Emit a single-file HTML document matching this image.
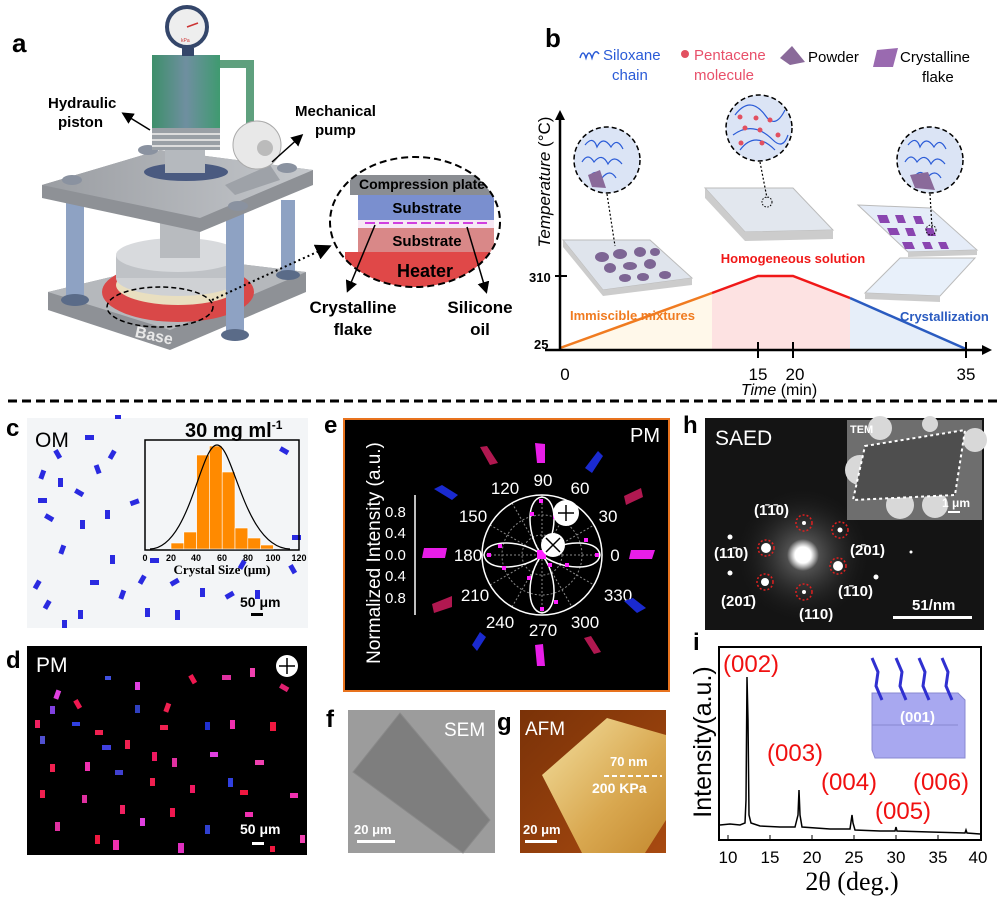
<!DOCTYPE html>
<html><head><meta charset="utf-8"><style>
html,body{margin:0;padding:0;background:#fff;}
svg{display:block;font-family:"Liberation Sans",Arial,sans-serif;}
</style></head><body>
<svg width="1000" height="897" viewBox="0 0 1000 897" xmlns="http://www.w3.org/2000/svg">
<defs>
<linearGradient id="gcyl" x1="0" x2="1"><stop offset="0" stop-color="#3d8f6a"/><stop offset=".5" stop-color="#6f8fa0"/><stop offset="1" stop-color="#3f9a70"/></linearGradient>
<linearGradient id="gplate" x1="0" x2="1"><stop offset="0" stop-color="#9a9da2"/><stop offset="1" stop-color="#c5c8cc"/></linearGradient>
<linearGradient id="gafm" x1="0" y1="0" x2="1" y2="1"><stop offset="0" stop-color="#7a3208"/><stop offset="1" stop-color="#a84a10"/></linearGradient>
<linearGradient id="gflake" x1="0" y1="0" x2="1" y2="1"><stop offset="0" stop-color="#f3e0a0"/><stop offset=".6" stop-color="#d9a850"/><stop offset="1" stop-color="#c58a30"/></linearGradient>
<radialGradient id="gspot"><stop offset="0" stop-color="#fff"/><stop offset=".5" stop-color="#fff"/><stop offset="1" stop-color="#fff" stop-opacity="0"/></radialGradient>
<radialGradient id="ghalo"><stop offset="0" stop-color="#777"/><stop offset="1" stop-color="#111" stop-opacity="0"/></radialGradient>
<clipPath id="czoom"><ellipse cx="415" cy="222" rx="85" ry="65"/></clipPath>
<marker id="ar" markerWidth="8" markerHeight="8" refX="6" refY="4" orient="auto"><path d="M0,0 L8,4 L0,8 z" fill="#000"/></marker>
</defs>

<!-- ===== Panel a ===== -->
<text x="12" y="52" font-size="26" font-weight="bold">a</text>
<!-- base -->
<polygon points="48,292 190,258 306,272 306,292 170,350 48,310" fill="#8e9196"/>
<polygon points="48,292 190,258 306,272 170,330" fill="#b5b8bc"/>
<text x="135" y="340" font-size="16" font-weight="bold" fill="#e8e8e8" transform="rotate(12 150 335)">Base</text>
<!-- heater -->
<ellipse cx="178" cy="292" rx="76" ry="30" fill="#d94848"/>
<ellipse cx="178" cy="285" rx="62" ry="20" fill="#e9dfc0"/>
<ellipse cx="178" cy="278" rx="62" ry="18" fill="#cfd1d4"/>
<rect x="116" y="255" width="124" height="23" fill="#bfc2c6"/>
<ellipse cx="178" cy="255" rx="62" ry="17" fill="#d8dadd"/>
<rect x="160" y="220" width="40" height="38" fill="#b8bbbf"/>
<ellipse cx="160" cy="307" rx="53" ry="20" fill="none" stroke="#000" stroke-width="1.5" stroke-dasharray="5,3"/>
<!-- columns -->
<rect x="66" y="200" width="18" height="100" fill="#8ea2c3"/>
<ellipse cx="75" cy="300" rx="14" ry="6" fill="#5a6b88"/>
<rect x="281" y="200" width="14" height="75" fill="#8ea2c3"/>
<ellipse cx="288" cy="275" rx="12" ry="5" fill="#5a6b88"/>
<rect x="226" y="205" width="18" height="130" fill="#8ea2c3"/>
<ellipse cx="235" cy="335" rx="14" ry="6" fill="#5a6b88"/>
<!-- top plate -->
<polygon points="42,185 160,150 313,170 313,185 200,232 42,198" fill="#8e9196"/>
<polygon points="42,185 160,150 313,170 200,218" fill="url(#gplate)"/>
<ellipse cx="72" cy="180" rx="10" ry="5" fill="#8a92a0"/>
<ellipse cx="148" cy="150" rx="10" ry="5" fill="#8a92a0"/>
<ellipse cx="287" cy="168" rx="10" ry="5" fill="#8a92a0"/>
<ellipse cx="238" cy="206" rx="10" ry="5" fill="#8a92a0"/>
<!-- cylinder -->
<ellipse cx="186" cy="172" rx="42" ry="9" fill="#4a5a80"/>
<rect x="165" y="135" width="40" height="38" fill="#b5b9be"/>
<rect x="152" y="55" width="68" height="75" fill="url(#gcyl)"/>
<rect x="152" y="128" width="68" height="22" fill="#9aa0a6"/>
<line x1="152" y1="134" x2="220" y2="134" stroke="#ddd" stroke-width="2"/>
<line x1="152" y1="140" x2="220" y2="140" stroke="#ddd" stroke-width="2"/>
<line x1="152" y1="146" x2="220" y2="146" stroke="#ddd" stroke-width="2"/>
<path d="M220,64 L250,64 L250,125" fill="none" stroke="#5fa07e" stroke-width="8"/>
<rect x="182" y="48" width="12" height="8" fill="#34466a"/>
<circle cx="187" cy="27" r="20" fill="#eee" stroke="#34466a" stroke-width="4"/>
<line x1="187" y1="27" x2="198" y2="23" stroke="#c33" stroke-width="1.5"/>
<text x="181" y="42" font-size="5" fill="#c33">kPa</text>
<!-- pump -->
<polygon points="225,185 270,165 280,180 235,195" fill="#9ea2a8"/>
<circle cx="257" cy="145" r="24" fill="#e8e8e8" stroke="#aaa"/>
<circle cx="265" cy="148" r="8" fill="#bbb"/>
<text x="48" y="108" font-size="15" font-weight="bold">Hydraulic</text>
<text x="58" y="127" font-size="15" font-weight="bold">piston</text>
<line x1="150" y1="130" x2="124" y2="114" stroke="#000" stroke-width="1.5" marker-end="url(#ar)"/>
<text x="295" y="116" font-size="15" font-weight="bold">Mechanical</text>
<text x="315" y="135" font-size="15" font-weight="bold">pump</text>
<line x1="272" y1="162" x2="301" y2="136" stroke="#000" stroke-width="1.5" marker-end="url(#ar)"/>
<line x1="212" y1="300" x2="328" y2="247" stroke="#000" stroke-width="2" stroke-dasharray="2,3" marker-end="url(#ar)"/>
<!-- zoom ellipse -->
<g clip-path="url(#czoom)">
<rect x="350" y="175" width="150" height="20" fill="#8a8d92"/>
<rect x="358" y="195" width="136" height="25" fill="#7a8fcf"/>
<rect x="358" y="220" width="136" height="8" fill="#f6e8f4"/>
<line x1="365" y1="223" x2="490" y2="223" stroke="#d040e0" stroke-width="2" stroke-dasharray="10,4"/>
<rect x="358" y="228" width="136" height="24" fill="#d98888"/>
<rect x="345" y="252" width="160" height="40" fill="#e04848"/>
</g>
<ellipse cx="415" cy="222" rx="85" ry="65" fill="none" stroke="#000" stroke-width="2" stroke-dasharray="7,4"/>
<text x="422" y="189" font-size="14" font-weight="bold" text-anchor="middle">Compression plate</text>
<text x="427" y="213" font-size="15" font-weight="bold" text-anchor="middle">Substrate</text>
<text x="427" y="246" font-size="15" font-weight="bold" text-anchor="middle">Substrate</text>
<text x="425" y="277" font-size="18" font-weight="bold" text-anchor="middle">Heater</text>
<line x1="375" y1="225" x2="348" y2="290" stroke="#000" stroke-width="1.5" marker-end="url(#ar)"/>
<line x1="467" y1="227" x2="486" y2="291" stroke="#000" stroke-width="1.5" marker-end="url(#ar)"/>
<text x="353" y="313" font-size="17" font-weight="bold" text-anchor="middle">Crystalline</text>
<text x="353" y="335" font-size="17" font-weight="bold" text-anchor="middle">flake</text>
<text x="480" y="313" font-size="17" font-weight="bold" text-anchor="middle">Silicone</text>
<text x="480" y="335" font-size="17" font-weight="bold" text-anchor="middle">oil</text>

<!-- ===== Panel b ===== -->
<text x="545" y="47" font-size="26" font-weight="bold">b</text>
<path d="M580,58 q3,-10 6,0 q3,-10 6,0 q3,-10 7,-4" fill="none" stroke="#2a5bd7" stroke-width="1.5"/>
<text x="603" y="60" font-size="15" fill="#2a5bd7">Siloxane</text>
<text x="612" y="80" font-size="15" fill="#2a5bd7">chain</text>
<circle cx="685" cy="54" r="4" fill="#e25060"/>
<text x="694" y="60" font-size="15" fill="#e8506a">Pentacene</text>
<text x="694" y="80" font-size="15" fill="#e8506a">molecule</text>
<polygon points="780,58 792,46 805,62 790,65" fill="#8a6a9a"/>
<text x="808" y="62" font-size="15">Powder</text>
<polygon points="877,50 898,48 893,67 873,67" fill="#9a6ab0"/>
<text x="900" y="62" font-size="15">Crystalline</text>
<text x="922" y="82" font-size="15">flake</text>
<!-- fills -->
<polygon points="560,348 712,293 712,350 560,350" fill="#fff8ea"/>
<polygon points="712,293 758,276 793,276 850,298 850,350 712,350" fill="#fde2e2"/>
<polygon points="850,298 966,349 966,350 850,350" fill="#e6eef9"/>
<polyline points="560,348 712,293" fill="none" stroke="#f07b20" stroke-width="2.5"/>
<polyline points="712,293 758,276 793,276 850,298" fill="none" stroke="#f01818" stroke-width="2.5"/>
<polyline points="850,298 966,349" fill="none" stroke="#2a5bc0" stroke-width="2.5"/>
<line x1="560" y1="350" x2="560" y2="118" stroke="#000" stroke-width="2.5"/>
<polygon points="555,120 560,110 565,120" fill="#000"/>
<line x1="545" y1="350" x2="985" y2="350" stroke="#000" stroke-width="2.5"/>
<polygon points="982,345 992,350 982,355" fill="#000"/>
<line x1="555" y1="276" x2="567" y2="276" stroke="#000" stroke-width="2"/>
<line x1="758" y1="342" x2="758" y2="358" stroke="#000" stroke-width="2"/>
<line x1="793" y1="342" x2="793" y2="358" stroke="#000" stroke-width="2"/>
<line x1="966" y1="342" x2="966" y2="358" stroke="#000" stroke-width="2"/>
<text x="529" y="282" font-size="13" font-weight="bold">310</text>
<text x="534" y="349" font-size="13" font-weight="bold">25</text>
<text x="565" y="380" font-size="17" text-anchor="middle">0</text>
<text x="758" y="380" font-size="17" text-anchor="middle">15</text>
<text x="795" y="380" font-size="17" text-anchor="middle">20</text>
<text x="966" y="380" font-size="17" text-anchor="middle">35</text>
<text x="779" y="395" font-size="16" text-anchor="middle"><tspan font-style="italic">Time</tspan> (min)</text>
<text x="0" y="0" font-size="17" text-anchor="middle" transform="translate(550,182) rotate(-90)"><tspan font-style="italic">Temperature</tspan> (°C)</text>
<text x="570" y="320" font-size="13" font-weight="bold" fill="#f07b20">Immiscible mixtures</text>
<text x="793" y="263" font-size="13" font-weight="bold" fill="#f01818" text-anchor="middle">Homogeneous solution</text>
<text x="900" y="321" font-size="13" font-weight="bold" fill="#2a5bc0">Crystallization</text>
<!-- slabs -->
<polygon points="563,240 650,240 692,278 603,290" fill="#dfe4ec" stroke="#bbb"/>
<polygon points="563,240 603,290 603,296 563,247" fill="#ccc"/>
<polygon points="603,290 692,278 692,285 603,296" fill="#ccc"/>
<g fill="#7d6594"><ellipse cx="602" cy="257" rx="7" ry="5"/><ellipse cx="620" cy="254" rx="7" ry="5"/><ellipse cx="640" cy="252" rx="6" ry="5"/><ellipse cx="610" cy="268" rx="6" ry="5"/><ellipse cx="630" cy="266" rx="7" ry="4"/><ellipse cx="650" cy="264" rx="6" ry="5"/><ellipse cx="625" cy="278" rx="6" ry="4"/><ellipse cx="643" cy="277" rx="6" ry="4"/><ellipse cx="665" cy="275" rx="6" ry="4"/><ellipse cx="655" cy="252" rx="5" ry="4"/></g>
<line x1="607" y1="194" x2="615" y2="246" stroke="#000" stroke-width="1.2" stroke-dasharray="2,2"/>
<circle cx="607" cy="160" r="33" fill="#dbe4f5" stroke="#000" stroke-width="1.5" stroke-dasharray="5,3"/>
<path d="M585,145 q8,-10 12,2 q6,-12 14,0 q6,-10 12,2 M582,162 q6,-10 12,0 q8,-10 14,2 q6,-10 14,0 M590,176 q6,-8 12,2 q8,-10 14,0" fill="none" stroke="#2a5bd7" stroke-width="1.2"/>
<polygon points="588,175 600,170 606,188 592,187" fill="#8a6a9a"/>
<polygon points="705,188 793,188 833,230 745,232" fill="#e2e7ee" stroke="#bbb"/>
<polygon points="745,232 833,230 833,239 745,241" fill="#ccc"/>
<polygon points="705,188 745,232 745,241 705,198" fill="#ccc"/>
<line x1="760" y1="162" x2="767" y2="198" stroke="#000" stroke-width="1.2" stroke-dasharray="2,2"/>
<circle cx="767" cy="202" r="5" fill="none" stroke="#000" stroke-dasharray="1.5,1.5"/>
<circle cx="759" cy="128" r="33" fill="#dbe4f5" stroke="#000" stroke-width="1.5" stroke-dasharray="5,3"/>
<path d="M735,115 q15,-20 30,0 q10,15 20,-5 M733,135 q20,-15 40,5 q10,10 15,-5 M740,150 q15,-20 35,0" fill="none" stroke="#2a5bd7" stroke-width="1.2"/>
<g fill="#e25060"><circle cx="740" cy="117" r="2.5"/><circle cx="756" cy="118" r="2.5"/><circle cx="770" cy="120" r="2.5"/><circle cx="745" cy="128" r="2.5"/><circle cx="760" cy="130" r="2.5"/><circle cx="778" cy="135" r="2.5"/><circle cx="741" cy="143" r="2.5"/><circle cx="762" cy="143" r="2.5"/></g>
<polygon points="858,205 930,208 977,250 908,252" fill="#e5ecf8" stroke="#bbb"/>
<polygon points="908,252 977,250 977,255 908,257" fill="#ccc"/>
<g fill="#8a45b0"><polygon points="877,215 887,215 890,223 880,223"/><polygon points="895,215 903,215 906,223 898,223"/><polygon points="913,216 921,216 924,224 916,224"/><polygon points="887,228 897,228 900,235 890,235"/><polygon points="905,228 913,228 916,236 908,236"/><polygon points="925,228 933,228 936,236 928,236"/><polygon points="902,242 912,242 915,249 905,249"/><polygon points="922,242 930,242 933,249 925,249"/><polygon points="938,242 946,242 949,249 941,249"/></g>
<polygon points="865,293 900,258 975,258 940,296" fill="#e8f0fa" stroke="#bbb"/>
<polygon points="865,293 940,296 940,302 865,299" fill="#ccc"/>
<line x1="930" y1="194" x2="932" y2="228" stroke="#000" stroke-width="1.2" stroke-dasharray="2,2"/>
<circle cx="931" cy="230" r="5" fill="none" stroke="#000" stroke-dasharray="1.5,1.5"/>
<circle cx="930" cy="160" r="33" fill="#dbe4f5" stroke="#000" stroke-width="1.5" stroke-dasharray="5,3"/>
<path d="M908,145 q8,-10 12,2 q6,-12 14,0 q6,-10 12,2 M905,162 q6,-10 12,0 q8,-10 14,2 q6,-10 14,0 M915,176 q6,-8 12,2 q8,-10 14,0" fill="none" stroke="#2a5bd7" stroke-width="1.2"/>
<polygon points="910,175 928,172 935,190 915,188" fill="#8a6a9a"/>

<!-- separator -->
<line x1="8" y1="401" x2="998" y2="401" stroke="#000" stroke-width="3" stroke-dasharray="9,5"/>

<!-- ===== Panel c ===== -->
<text x="6" y="436" font-size="24" font-weight="bold">c</text>
<rect x="27" y="418" width="281" height="210" fill="#f3f5f7"/>
<g fill="#2a2ae0">
<rect x="40" y="470" width="5" height="9" transform="rotate(20 42 474)"/><rect x="55" y="450" width="5" height="9" transform="rotate(-30 57 454)"/><rect x="85" y="435" width="9" height="5"/><rect x="58" y="478" width="5" height="9"/><rect x="75" y="490" width="9" height="5" transform="rotate(30 79 492)"/><rect x="95" y="465" width="5" height="9" transform="rotate(-20 97 469)"/><rect x="110" y="450" width="5" height="9" transform="rotate(30 112 454)"/><rect x="105" y="510" width="5" height="9"/><rect x="45" y="515" width="9" height="5" transform="rotate(30 49 517)"/><rect x="80" y="520" width="5" height="9"/><rect x="130" y="500" width="9" height="5" transform="rotate(-20 134 502)"/><rect x="60" y="545" width="5" height="9" transform="rotate(20 62 549)"/><rect x="110" y="555" width="5" height="9"/><rect x="35" y="580" width="5" height="9" transform="rotate(30 37 584)"/><rect x="90" y="580" width="9" height="5"/><rect x="120" y="590" width="5" height="9" transform="rotate(20 122 594)"/><rect x="145" y="608" width="5" height="9"/><rect x="175" y="610" width="5" height="10"/><rect x="140" y="575" width="5" height="9" transform="rotate(30 142 579)"/><rect x="170" y="580" width="9" height="5" transform="rotate(-30 174 582)"/><rect x="200" y="588" width="5" height="9"/><rect x="225" y="593" width="9" height="5" transform="rotate(-30 229 595)"/><rect x="255" y="590" width="5" height="9"/><rect x="290" y="565" width="5" height="9" transform="rotate(-30 292 569)"/><rect x="280" y="448" width="9" height="5" transform="rotate(30 284 450)"/><rect x="292" y="535" width="9" height="5"/><rect x="45" y="600" width="5" height="9" transform="rotate(30 47 604)"/><rect x="62" y="620" width="5" height="8"/><rect x="78" y="610" width="5" height="9"/><rect x="115" y="415" width="6" height="4"/><rect x="38" y="498" width="9" height="5"/><rect x="150" y="558" width="9" height="5"/><rect x="240" y="560" width="5" height="9" transform="rotate(30 242 564)"/>
</g>
<text x="35" y="447" font-size="21">OM</text>
<text x="185" y="437" font-size="20" font-weight="bold">30 mg ml<tspan dy="-8" font-size="12">-1</tspan></text>
<rect x="145" y="440" width="154" height="110" fill="none" stroke="#000" stroke-width="1.5"/>
<g fill="#ff8a00" stroke="#fff" stroke-width="0.6">
<rect x="171" y="543" width="12.8" height="6"/><rect x="183.8" y="532" width="12.8" height="17"/><rect x="196.6" y="455" width="12.8" height="94"/><rect x="209.4" y="446" width="12.8" height="103"/><rect x="222.2" y="472" width="12.8" height="77"/><rect x="235" y="528" width="12.8" height="21"/><rect x="247.8" y="538" width="12.8" height="11"/><rect x="260.6" y="545" width="12.8" height="4"/>
</g>
<path d="M150,549 C190,548 200,445 217,445 C234,445 244,548 290,549" fill="none" stroke="#000" stroke-width="1.2"/>
<g font-size="9" font-weight="bold" text-anchor="middle"><text x="145" y="561">0</text><text x="171" y="561">20</text><text x="196" y="561">40</text><text x="222" y="561">60</text><text x="248" y="561">80</text><text x="273" y="561">100</text><text x="299" y="561">120</text></g>
<text x="222" y="574" font-size="13" font-weight="bold" text-anchor="middle" font-family="Liberation Serif,serif">Crystal Size (μm)</text>
<text x="240" y="607" font-size="14" font-weight="bold">50 μm</text>
<rect x="251" y="613" width="12" height="3" fill="#000"/>

<!-- ===== Panel d ===== -->
<text x="6" y="668" font-size="24" font-weight="bold">d</text>
<rect x="27" y="646" width="280" height="209" fill="#000"/>
<g>
<rect x="55" y="690" width="5" height="9" fill="#e040e0" transform="rotate(20 57 694)"/><rect x="75" y="700" width="5" height="9" fill="#f01850" transform="rotate(-30 77 704)"/><rect x="105" y="676" width="6" height="4" fill="#4050e0"/><rect x="135" y="682" width="5" height="8" fill="#e040e0"/><rect x="165" y="703" width="5" height="9" fill="#f02050" transform="rotate(20 167 707)"/><rect x="190" y="675" width="5" height="9" fill="#f01850" transform="rotate(-30 192 679)"/><rect x="222" y="675" width="9" height="5" fill="#e030a0"/><rect x="250" y="668" width="5" height="9" fill="#f040b0"/><rect x="280" y="685" width="9" height="5" fill="#e02070" transform="rotate(30 284 687)"/><rect x="35" y="720" width="5" height="8" fill="#f02060"/><rect x="50" y="706" width="5" height="8" fill="#8040e0"/><rect x="72" y="722" width="8" height="4" fill="#3040e0"/><rect x="95" y="730" width="8" height="5" fill="#f02050"/><rect x="135" y="705" width="5" height="8" fill="#3040c0"/><rect x="160" y="725" width="8" height="5" fill="#f02050"/><rect x="205" y="722" width="5" height="8" fill="#2030d0"/><rect x="230" y="720" width="5" height="9" fill="#f030b0"/><rect x="270" y="722" width="6" height="9" fill="#f01840"/><rect x="40" y="736" width="5" height="8" fill="#5050d0"/><rect x="102" y="745" width="9" height="5" fill="#4040e0"/><rect x="125" y="740" width="5" height="9" fill="#f02050"/><rect x="152" y="752" width="5" height="9" fill="#f01860"/><rect x="172" y="758" width="5" height="9" fill="#e030a0"/><rect x="210" y="752" width="8" height="5" fill="#e040e0"/><rect x="255" y="760" width="9" height="5" fill="#f040b0"/><rect x="50" y="764" width="5" height="8" fill="#f02050"/><rect x="85" y="762" width="5" height="9" fill="#f030b0"/><rect x="115" y="770" width="8" height="5" fill="#4040d0"/><rect x="150" y="778" width="5" height="8" fill="#f02050"/><rect x="190" y="785" width="5" height="8" fill="#f01860"/><rect x="228" y="778" width="5" height="9" fill="#3040e0"/><rect x="240" y="790" width="8" height="5" fill="#f01840"/><rect x="290" y="793" width="8" height="5" fill="#f030b0"/><rect x="40" y="790" width="5" height="8" fill="#f02050"/><rect x="82" y="795" width="5" height="8" fill="#e030a0"/><rect x="120" y="805" width="5" height="9" fill="#f02060"/><rect x="140" y="818" width="5" height="8" fill="#e040e0"/><rect x="170" y="808" width="5" height="9" fill="#f01850"/><rect x="205" y="825" width="5" height="9" fill="#3040d0"/><rect x="245" y="812" width="8" height="5" fill="#f030b0"/><rect x="55" y="822" width="5" height="9" fill="#e030a0"/><rect x="95" y="835" width="5" height="9" fill="#f01840"/><rect x="113" y="840" width="6" height="10" fill="#f030b0"/><rect x="178" y="843" width="6" height="10" fill="#e030c0"/><rect x="270" y="846" width="5" height="6" fill="#f01840"/><rect x="300" y="835" width="5" height="8" fill="#f040b0"/>
</g>
<text x="36" y="672" font-size="21" fill="#fff">PM</text>
<circle cx="287" cy="666" r="11" fill="#fff"/>
<path d="M287,658 V674 M279,666 H295" stroke="#000" stroke-width="1.5"/>
<text x="240" y="834" font-size="14" font-weight="bold" fill="#fff">50 μm</text>
<rect x="252" y="842" width="12" height="3" fill="#fff"/>

<!-- ===== Panel e ===== -->
<text x="324" y="433" font-size="24" font-weight="bold">e</text>
<rect x="344" y="419" width="325" height="272" fill="#000" stroke="#e8731e" stroke-width="2"/>
<text x="630" y="442" font-size="20" fill="#fff">PM</text>
<text x="0" y="0" font-size="19" fill="#fff" text-anchor="middle" transform="translate(380,553) rotate(-90)">Normalized Intensity (a.u.)</text>
<line x1="415" y1="495" x2="415" y2="615" stroke="#fff" stroke-width="1.5"/>
<g font-size="15" fill="#fff"><text x="385" y="517">0.8</text><text x="385" y="538">0.4</text><text x="385" y="560">0.0</text><text x="385" y="581">0.4</text><text x="385" y="603">0.8</text></g>
<g stroke="#888" stroke-width="1" stroke-dasharray="2,2" fill="none">
<circle cx="542" cy="555" r="20"/><circle cx="542" cy="555" r="40"/>
<line x1="482" y1="555" x2="602" y2="555"/><line x1="542" y1="495" x2="542" y2="615"/>
<line x1="490" y1="525" x2="594" y2="585"/><line x1="490" y1="585" x2="594" y2="525"/>
<line x1="512" y1="503" x2="572" y2="607"/><line x1="512" y1="607" x2="572" y2="503"/>
</g>
<circle cx="542" cy="555" r="60" fill="none" stroke="#fff" stroke-width="1.5"/>
<path d="M542,555 C560,540 598,538 600,555 C598,572 560,570 542,555 C524,570 486,572 484,555 C486,538 524,540 542,555 C527,537 525,499 542,497 C559,499 557,537 542,555 C557,573 559,611 542,613 C525,611 527,573 542,555 Z" fill="none" stroke="#fff" stroke-width="1.5"/>
<g fill="#ff20ff"><rect x="539" y="499" width="4" height="4"/><rect x="553" y="515" width="4" height="4"/><rect x="530" y="512" width="4" height="4"/><rect x="584" y="538" width="4" height="4"/><rect x="595" y="553" width="4" height="4"/><rect x="565" y="563" width="4" height="4"/><rect x="487" y="553" width="4" height="4"/><rect x="498" y="544" width="4" height="4"/><rect x="502" y="566" width="4" height="4"/><rect x="527" y="576" width="4" height="4"/><rect x="540" y="607" width="4" height="4"/><rect x="554" y="600" width="4" height="4"/><rect x="548" y="563" width="4" height="4"/><rect x="537" y="550" width="9" height="9"/></g>
<circle cx="566" cy="513" r="13" fill="#fff"/>
<path d="M566,505 V521 M558,513 H574" stroke="#000" stroke-width="1.5"/>
<circle cx="553" cy="545" r="12" fill="#fff"/>
<path d="M546,538 L560,552 M560,538 L546,552" stroke="#000" stroke-width="1.5"/>
<g font-size="17" fill="#fff" text-anchor="middle"><text x="543" y="486">90</text><text x="580" y="494">60</text><text x="608" y="522">30</text><text x="615" y="561">0</text><text x="618" y="601">330</text><text x="585" y="628">300</text><text x="543" y="636">270</text><text x="500" y="628">240</text><text x="475" y="601">210</text><text x="468" y="561">180</text><text x="473" y="522">150</text><text x="505" y="494">120</text></g>
<polygon points="535,443 545,444 545,463 537,463" fill="#e81ee8"/>
<polygon points="480,447 487,446 498,463 490,465" fill="#b01850"/>
<polygon points="598,451 603,456 592,473 585,468" fill="#1a2ad0"/>
<polygon points="434,489 442,485 458,495 452,500" fill="#1a2ad0"/>
<polygon points="424,548 447,548 445,558 422,558" fill="#e81ee8"/>
<polygon points="432,604 452,596 452,607 434,613" fill="#b01850"/>
<polygon points="472,645 480,632 486,637 477,651" fill="#1a2ad0"/>
<polygon points="535,645 543,644 545,666 537,666" fill="#e81ee8"/>
<polygon points="584,638 591,636 601,652 594,654" fill="#b01850"/>
<polygon points="624,496 641,488 643,497 626,505" fill="#b01850"/>
<polygon points="631,550 655,550 652,559 629,559" fill="#e81ee8"/>
<polygon points="624,601 633,598 646,608 637,613" fill="#1a2ad0"/>

<!-- ===== Panel f ===== -->
<text x="326" y="727" font-size="24" font-weight="bold">f</text>
<rect x="348" y="710" width="147" height="143" fill="#9c9c9c"/>
<polygon points="400,713 490,820 463,853 353,772" fill="#7e7e7e" stroke="#8a8a8a"/>
<text x="444" y="736" font-size="19" fill="#fff">SEM</text>
<text x="354" y="834" font-size="13" font-weight="bold" fill="#fff">20 μm</text>
<rect x="357" y="840" width="38" height="3" fill="#fff"/>

<!-- ===== Panel g ===== -->
<text x="497" y="730" font-size="24" font-weight="bold">g</text>
<rect x="520" y="710" width="146" height="143" fill="url(#gafm)"/>
<polygon points="607,718 666,735 666,820 645,853 582,853 542,775" fill="url(#gflake)"/>
<text x="525" y="735" font-size="19" fill="#fff">AFM</text>
<text x="610" y="766" font-size="13" font-weight="bold" fill="#fff">70 nm</text>
<line x1="604" y1="776" x2="662" y2="776" stroke="#fff" stroke-width="2" stroke-dasharray="5,3"/>
<text x="592" y="793" font-size="14" font-weight="bold" fill="#fff">200 KPa</text>
<text x="523" y="834" font-size="13" font-weight="bold" fill="#fff">20 μm</text>
<rect x="525" y="840" width="32" height="3" fill="#fff"/>

<!-- ===== Panel h ===== -->
<text x="683" y="433" font-size="24" font-weight="bold">h</text>
<rect x="705" y="418" width="279" height="212" fill="#141414"/>
<circle cx="803" cy="555" r="70" fill="url(#ghalo)"/>
<circle cx="803" cy="555" r="16" fill="url(#gspot)"/>
<rect x="847" y="420" width="135" height="100" fill="#6e6e6e"/>
<circle cx="860" cy="470" r="15" fill="#d8d8d8"/><circle cx="900" cy="505" r="14" fill="#d8d8d8"/><circle cx="935" cy="505" r="13" fill="#d8d8d8"/><circle cx="880" cy="428" r="12" fill="#d8d8d8"/><circle cx="975" cy="440" r="12" fill="#d8d8d8"/><circle cx="930" cy="424" r="8" fill="#d8d8d8"/>
<polygon points="865,446 965,430 955,495 853,500" fill="#4e4e4e"/>
<polygon points="865,446 965,430 955,495 853,500" fill="none" stroke="#fff" stroke-width="2" stroke-dasharray="3,3"/>
<text x="850" y="433" font-size="11" font-weight="bold" fill="#fff">TEM</text>
<text x="942" y="507" font-size="12" font-weight="bold" fill="#fff">1 μm</text>
<rect x="948" y="511" width="12" height="2" fill="#fff"/>
<text x="715" y="445" font-size="21" fill="#fff">SAED</text>
<g fill="#fff"><circle cx="766" cy="548" r="5"/><circle cx="838" cy="566" r="5"/><circle cx="840" cy="530" r="2.5"/><circle cx="765" cy="582" r="4"/><circle cx="804" cy="523" r="2"/><circle cx="804" cy="592" r="2"/><circle cx="730" cy="537" r="2.5"/><circle cx="730" cy="573" r="2.5"/><circle cx="876" cy="577" r="2.5"/><circle cx="911" cy="552" r="1.5"/></g>
<g fill="none" stroke="#e02020" stroke-width="1.5" stroke-dasharray="2,2"><circle cx="804" cy="523" r="8"/><circle cx="840" cy="530" r="8"/><circle cx="766" cy="548" r="8"/><circle cx="838" cy="566" r="8"/><circle cx="765" cy="582" r="8"/><circle cx="804" cy="592" r="8"/></g>
<g font-size="15" font-weight="bold" fill="#fff">
<text x="754" y="515">(1̄1̄0)</text><text x="714" y="558">(11̄0)</text><text x="850" y="555">(2̄01)</text><text x="838" y="596">(1̄10)</text><text x="721" y="606">(201̄)</text><text x="799" y="619">(110)</text>
<text x="912" y="610">51/nm</text></g>
<rect x="893" y="616" width="79" height="3" fill="#fff"/>

<!-- ===== Panel i ===== -->
<text x="693" y="650" font-size="24" font-weight="bold">i</text>
<rect x="719" y="647" width="262" height="193" fill="#fff" stroke="#000" stroke-width="2"/>
<polyline fill="none" stroke="#000" stroke-width="1.5" points="720,825 730,824 740,825 745,823 746,800 747,677 748,720 749,815 751,823 760,826 780,827 795,827 798,815 799,790 800,815 802,827 830,829 850,829 851,822 852,815 853,823 855,830 880,831 895,831 896,827 897,831 930,832 965,833 966,830 967,833 980,834"/>
<g font-size="17" text-anchor="middle"><text x="728" y="863">10</text><text x="770" y="863">15</text><text x="812" y="863">20</text><text x="854" y="863">25</text><text x="896" y="863">30</text><text x="938" y="863">35</text><text x="978" y="863">40</text></g>
<g stroke="#000" stroke-width="1"><line x1="728" y1="840" x2="728" y2="835"/><line x1="770" y1="840" x2="770" y2="835"/><line x1="812" y1="840" x2="812" y2="835"/><line x1="854" y1="840" x2="854" y2="835"/><line x1="896" y1="840" x2="896" y2="835"/><line x1="938" y1="840" x2="938" y2="835"/></g>
<text x="852" y="890" font-size="26" text-anchor="middle" font-family="Liberation Serif,serif">2θ (deg.)</text>
<text x="0" y="0" font-size="25" text-anchor="middle" transform="translate(711,742) rotate(-90)">Intensity(a.u.)</text>
<g font-size="24" fill="#f01010"><text x="723" y="672">(002)</text><text x="767" y="761">(003)</text><text x="821" y="790">(004)</text><text x="913" y="790">(006)</text><text x="875" y="819">(005)</text></g>
<polygon points="872,693 958,693 965,700 965,758 875,758 872,750" fill="#a8a8f0" stroke="#8888d0"/>
<line x1="872" y1="725" x2="958" y2="725" stroke="#8888d0"/><line x1="958" y1="693" x2="958" y2="725"/>
<text x="900" y="722" font-size="15" font-weight="bold" fill="#fff">(001)</text>
<g stroke="#3030d0" stroke-width="3" fill="none">
<polyline points="872,658 878,672 876,686 882,700"/><polyline points="896,658 902,672 900,686 906,700"/><polyline points="919,658 925,672 923,686 929,700"/><polyline points="942,658 948,672 946,686 952,700"/>
</g>
</svg>
</body></html>
